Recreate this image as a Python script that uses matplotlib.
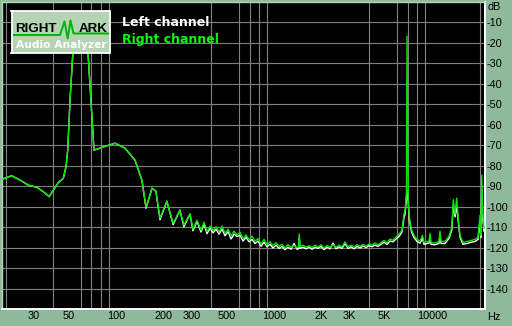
import matplotlib
matplotlib.use("Agg")
import matplotlib.pyplot as plt
from matplotlib.ticker import FixedLocator, NullFormatter, FixedFormatter

# ---------------- data ----------------
freq_hz = [19.0, 21.9, 24.7, 27.9, 31.5, 34.7, 37.8, 40.1, 43.2, 46.4, 48.3, 49.5, 51.2, 53.5,
           60.0, 66.5, 71.5, 72.6, 82.7, 98.6, 114, 132, 146, 155, 169, 179, 190, 210, 230,
           254, 269, 294, 307, 326, 345,
           361, 377, 394, 412, 430, 449, 469, 490, 512, 535, 559, 584, 610, 637, 666, 695,
           726, 759, 793, 828, 865, 904, 944, 986, 1030, 1076, 1124, 1175, 1227, 1282, 1339,
           1399, 1430, 1446, 1462, 1527, 1595, 1667, 1741, 1819, 1900, 1985, 2074, 2166,
           2263, 2364, 2470, 2580, 2695, 2816, 2942, 3073, 3210, 3354, 3504, 3660, 3824,
           3995, 4173, 4360, 4555, 4758, 4971, 5193, 5425, 5668, 5921, 6186,
           6457, 6650, 6745, 6889, 6950,
           7060, 7170, 7430, 7690, 8035, 8400, 8700, 8900, 9570, 9710, 9855, 10440, 11070,
           11240, 11400, 12080, 12810, 13330, 13650, 13990, 14330, 14690, 15040, 15710,
           16660, 17660, 18720, 19560, 20140, 20380, 20660, 20960, 21340]

right_db = [-86.6, -84.9, -87.0, -89.5, -90.5, -92.7, -95.1, -92.0, -88.2, -86.2, -80.5, -72.4,
            -48.0, -23.5, -8.0, -24.5, -64.1, -72.4, -70.9, -69.0, -71.4, -77.3, -87.1, -100.2,
            -91.0, -92.4, -105.6, -97.3, -108.1, -101.7, -109.0, -103.6, -111.0, -106.6,
            -111.5,
            -107.6, -112.2, -109.5, -111.6, -109.8, -112.5, -109.5, -113.0, -111.0, -114.2,
            -112.0, -113.8, -112.5, -115.6, -113.8, -116.2, -114.5, -116.8, -115.6, -118.4,
            -116.0, -118.6, -117.2, -119.0, -117.6, -119.4, -118.4, -120.2, -118.6, -119.8,
            -119.0, -120.0, -119.8, -113.3, -119.6, -118.8, -119.8, -119.0, -120.0, -118.8,
            -119.6, -118.6, -120.2, -119.0, -119.8, -118.6, -119.8, -118.8, -119.6, -117.2,
            -119.6, -118.8, -119.8, -118.6, -119.4, -118.4, -119.2, -118.2, -118.8, -117.8,
            -118.6, -117.6, -116.5, -117.6, -115.8, -116.4, -114.8, -113.5,
            -111.5, -103.5, -102.0, -93.5, -16.7,
            -94.5, -104.5, -111.5, -114.0, -116.0, -116.8, -114.0, -117.5, -117.0, -113.0,
            -117.5, -117.8, -117.0, -112.0, -117.0, -117.0, -114.5, -110.4, -96.5, -103.6,
            -95.8, -106.6, -114.0, -117.5, -117.0, -116.5, -116.0, -115.0, -104.2, -114.0,
            -84.6, -104.2, -110.5]

left_db = [-86.6, -84.9, -87.0, -89.5, -90.5, -92.7, -95.1, -92.0, -88.2, -86.2, -80.5, -72.4,
           -48.0, -23.5, -8.0, -24.5, -64.1, -72.4, -70.9, -69.0, -71.4, -77.3, -87.1, -100.8,
           -91.0, -92.4, -106.4, -97.3, -108.8, -101.7, -109.8, -103.6, -111.8, -107.2,
           -112.4,
           -108.6, -113.2, -110.6, -112.8, -111.0, -113.4, -111.0, -114.2, -112.2, -115.8,
           -113.4, -114.6, -114.0, -116.8, -115.0, -117.2, -116.0, -118.0, -116.8, -119.4,
           -117.4, -119.6, -118.4, -120.2, -118.8, -120.4, -119.4, -121.0, -119.8, -120.8,
           -118.0, -120.8, -120.6, -115.0, -120.4, -119.8, -120.6, -119.8, -120.8, -119.8,
           -120.4, -119.4, -121.0, -119.8, -120.6, -117.8, -120.6, -119.6, -120.4, -118.0,
           -120.4, -119.6, -120.6, -119.4, -120.2, -119.2, -120.0, -119.0, -119.6, -118.8,
           -119.4, -118.4, -117.4, -118.4, -116.8, -117.2, -115.8, -114.6,
           -112.4, -105.0, -104.0, -96.0, -92.0,
           -97.0, -106.0, -112.6, -115.0, -117.0, -117.8, -115.5, -118.4, -117.8, -115.5,
           -118.4, -118.6, -118.0, -114.0, -118.0, -118.0, -115.5, -111.6, -99.0, -105.0,
           -99.5, -108.0, -115.0, -118.4, -118.0, -117.4, -117.0, -116.0, -107.0, -115.0,
           -90.0, -106.0, -112.0]

db_ticks = [-10, -20, -30, -40, -50, -60, -70, -80, -90, -100, -110, -120, -130, -140]
x_label_pos = [30, 50, 100, 200, 300, 500, 1000, 2000, 3000, 5000, 10000]
x_labels = ["30", "50", "100", "200", "300", "500", "1000", "2K", "3K", "5K", "10000"]
x_grid = [20, 30, 40, 50, 60, 70, 80, 90, 100, 200, 300, 400, 500, 600, 700, 800, 900,
          1000, 2000, 3000, 4000, 5000, 6000, 7000, 8000, 9000, 10000, 20000]

# ---------------- figure ----------------
W, H = 512, 326
BG = "#8fb99b"
fig = plt.figure(figsize=(W / 100, H / 100), dpi=100, facecolor=BG)

L, R, T, B = 2, 485, 2, 309
ax = fig.add_axes([L / W, 1 - B / H, (R - L) / W, (B - T) / H])
ax.set_facecolor("black")
ax.set_xscale("log")
ax.set_xlim(19.0, 21650)
ax.set_ylim(-150, 0)

ax.plot(freq_hz, left_db, color="white", lw=1.0, zorder=3)
ax.plot(freq_hz, right_db, color="#00e600", lw=1.0, zorder=4)

# grid
ax.xaxis.set_major_locator(FixedLocator(x_label_pos))
ax.xaxis.set_major_formatter(FixedFormatter(x_labels))
ax.xaxis.set_minor_locator(FixedLocator(x_grid))
ax.xaxis.set_minor_formatter(NullFormatter())
ax.set_yticks(db_ticks)
ax.set_yticklabels([str(v) for v in db_ticks])
ax.yaxis.tick_right()
ax.grid(False)
ax.grid(True, axis="x", which="minor", color="#808080", lw=0.8, zorder=1)
ax.grid(True, axis="y", which="major", color="#808080", lw=0.8, zorder=1)
ax.set_axisbelow(True)

tick_font = dict(family="Liberation Sans", size=7.8)
ax.tick_params(axis="both", which="both", length=0, colors="black")
ax.tick_params(axis="y", pad=1.0, labelsize=7.8)
ax.tick_params(axis="x", pad=1.5, labelsize=7.8)
for lab in ax.get_xticklabels() + ax.get_yticklabels():
    lab.set_family("Liberation Sans")

for s in ("right", "bottom"):
    ax.spines[s].set_color("white")
    ax.spines[s].set_linewidth(1.4)
for s in ("left", "top"):
    ax.spines[s].set_color("#b4d4b4")
    ax.spines[s].set_linewidth(1.0)

fig.text(487 / W, 1 - 7 / H, "dB", ha="left", va="center", color="black", **tick_font)
fig.text(487 / W, 1 - 317 / H, "Hz", ha="left", va="center", color="black", **tick_font)

# legend texts
fig.text(122.5 / W, 1 - 16.5 / H, "Left channel", color="white", fontsize=9,
         fontweight="bold", family="DejaVu Sans", ha="left", va="top")
fig.text(122.5 / W, 1 - 32.5 / H, "Right channel", color="#00ff00", fontsize=9,
         fontweight="bold", family="DejaVu Sans", ha="left", va="top")

# logo
lx0, lx1, ly0, ly1 = 11.5, 109.5, 11.5, 53
lg = fig.add_axes([lx0 / W, 1 - ly1 / H, (lx1 - lx0) / W, (ly1 - ly0) / H])
lg.set_facecolor("#b4d4b4")
lg.set_xlim(lx0, lx1)
lg.set_ylim(ly1, ly0)
lg.set_xticks([])
lg.set_yticks([])
for s in lg.spines.values():
    s.set_color("white")
    s.set_linewidth(1.3)
zig_x = [14, 60, 64.5, 67.7, 70.5, 73.5, 108]
zig_y = [35, 35, 21.5, 38.5, 20.5, 33.5, 33.5]
lg.plot(zig_x, zig_y, color="#00b400", lw=1.4)
lg.text(15.5, 32.3, "RIGHT", color="black", fontsize=9.6, fontweight="bold",
        family="Liberation Sans", ha="left", va="baseline")
lg.text(107.5, 32.3, "ARK", color="black", fontsize=9.6, fontweight="bold",
        family="Liberation Sans", ha="right", va="baseline")
lg.text(61, 47.5, "Audio Analyzer", color="white", fontsize=7.7, fontweight="bold",
        family="DejaVu Sans", ha="center", va="baseline")

fig.savefig("out.png", dpi=100, facecolor=BG)
